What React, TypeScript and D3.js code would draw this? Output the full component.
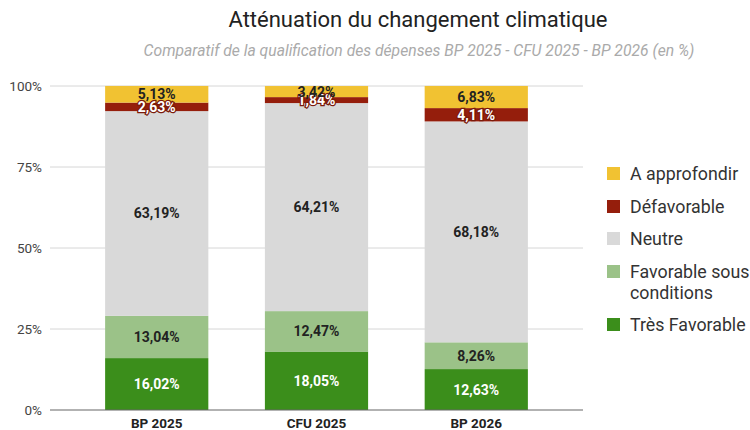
import React, { useEffect, useRef } from 'react';
import * as d3 from 'd3';

const CATEGORIES = ['BP 2025', 'CFU 2025', 'BP 2026'];
const SERIES = ['Très Favorable', 'Favorable sous conditions', 'Neutre', 'Défavorable', 'A approfondir'];
const TRES_FAVORABLE = [16.02, 18.05, 12.63];
const FAVORABLE_SC = [13.04, 12.47, 8.26];
const NEUTRE = [63.19, 64.21, 68.18];
const DEFAVORABLE = [2.63, 1.84, 4.11];
const A_APPROFONDIR = [5.13, 3.42, 6.83];
const Y_TICKS = [0, 25, 50, 75, 100];

const COLORS = ['#3b8e1b', '#9bc288', '#d9d9d9', '#951e0c', '#f1c232'];
const LABEL_COLORS = ['#ffffff', '#222222', '#222222', '#ffffff', '#222222'];

const fmt = (v: number) => v.toFixed(2).replace('.', ',') + '%';

const App: React.FC = () => {
  const ref = useRef<SVGSVGElement>(null);
  const width = 750;
  const height = 430;

  useEffect(() => {
    if (!ref.current) return;
    const svg = d3.select(ref.current);
    svg.selectAll('*').remove();

    const font = 'Roboto, sans-serif';
    const values = [TRES_FAVORABLE, FAVORABLE_SC, NEUTRE, DEFAVORABLE, A_APPROFONDIR];
    const rows = CATEGORIES.map((c, i) => {
      const row: any = { cat: c };
      SERIES.forEach((s, j) => (row[s] = values[j][i]));
      return row;
    });
    const stacked = d3.stack<any>().keys(SERIES)(rows);

    const x = d3.scaleBand<string>().domain(CATEGORIES).range([50, 583]).paddingInner(0.354).paddingOuter(0.345);
    const y = d3.scaleLinear().domain([0, 100]).range([410, 86]);

    // title
    svg.append('text')
      .attr('x', 418).attr('y', 27)
      .attr('text-anchor', 'middle')
      .attr('font-family', font).attr('font-size', 22)
      .attr('fill', '#222')
      .text('Atténuation du changement climatique');
    svg.append('text')
      .attr('x', 419).attr('y', 56)
      .attr('text-anchor', 'middle')
      .attr('font-family', font).attr('font-size', 15.7)
      .attr('font-style', 'italic')
      .attr('fill', '#aaaaaa')
      .text('Comparatif de la qualification des dépenses BP 2025 - CFU 2025 - BP 2026 (en %)');

    // grid
    svg.append('g').selectAll('line')
      .data(Y_TICKS.filter(t => t > 0))
      .join('line')
      .attr('x1', 50).attr('x2', 583)
      .attr('y1', d => y(d)).attr('y2', d => y(d))
      .attr('stroke', '#d6d6d6').attr('stroke-width', 1);

    svg.append('g').selectAll('text')
      .data(Y_TICKS)
      .join('text')
      .attr('x', 42).attr('y', d => y(d) + 5)
      .attr('text-anchor', 'end')
      .attr('font-family', font).attr('font-size', 13.5)
      .attr('fill', '#444')
      .text(d => d + '%');

    // bars
    const g = svg.append('g');
    stacked.forEach((layer, j) => {
      g.selectAll(`.bar-${j}`)
        .data(layer)
        .join('rect')
        .attr('class', `bar-${j}`)
        .attr('x', d => x(d.data.cat)!)
        .attr('width', x.bandwidth())
        .attr('y', d => y(d[1]))
        .attr('height', d => y(d[0]) - y(d[1]))
        .attr('fill', COLORS[j]);
    });

    // baseline
    svg.append('line')
      .attr('x1', 50).attr('x2', 583)
      .attr('y1', y(0)).attr('y2', y(0))
      .attr('stroke', '#666').attr('stroke-width', 1.2);

    // value labels
    stacked.forEach((layer, j) => {
      const lbl = g.selectAll(`.lbl-${j}`)
        .data(layer)
        .join('text')
        .attr('class', `lbl-${j}`)
        .attr('x', d => x(d.data.cat)! + x.bandwidth() / 2)
        .attr('y', d => (y(d[0]) + y(d[1])) / 2 + 5)
        .attr('text-anchor', 'middle')
        .attr('font-family', font).attr('font-size', 14)
        .attr('font-weight', 'bold')
        .attr('fill', LABEL_COLORS[j])
        .text(d => fmt(d[1] - d[0]));
      if (j === 3) {
        lbl.attr('stroke', '#7a1a0a').attr('stroke-width', 2.5)
          .attr('paint-order', 'stroke');
      }
    });

    // category labels
    svg.append('g').selectAll('text')
      .data(CATEGORIES)
      .join('text')
      .attr('x', d => x(d)! + x.bandwidth() / 2)
      .attr('y', 428)
      .attr('text-anchor', 'middle')
      .attr('font-family', font).attr('font-size', 13.5)
      .attr('font-weight', 'bold')
      .attr('fill', '#222')
      .text(d => d);

    // legend
    const legendItems = [
      { color: COLORS[4], lines: ['A approfondir'], y: 173 },
      { color: COLORS[3], lines: ['Défavorable'], y: 206 },
      { color: COLORS[2], lines: ['Neutre'], y: 238 },
      { color: COLORS[1], lines: ['Favorable sous', 'conditions'], y: 271 },
      { color: COLORS[0], lines: ['Très Favorable'], y: 324 },
    ];
    const lg = svg.append('g');
    legendItems.forEach(it => {
      lg.append('rect')
        .attr('x', 607).attr('y', it.y - 6)
        .attr('width', 13).attr('height', 13)
        .attr('fill', it.color);
      it.lines.forEach((l, k) => {
        lg.append('text')
          .attr('x', 630).attr('y', it.y + 6.5 + k * 21)
          .attr('font-family', font).attr('font-size', 17.8)
          .attr('fill', '#333')
          .text(l);
      });
    });
  }, []);

  return (
    <svg ref={ref} width={width} height={height}
      style={{ position: 'absolute', left: 0, top: 0, background: '#fff' }} />
  );
};

export default App;
